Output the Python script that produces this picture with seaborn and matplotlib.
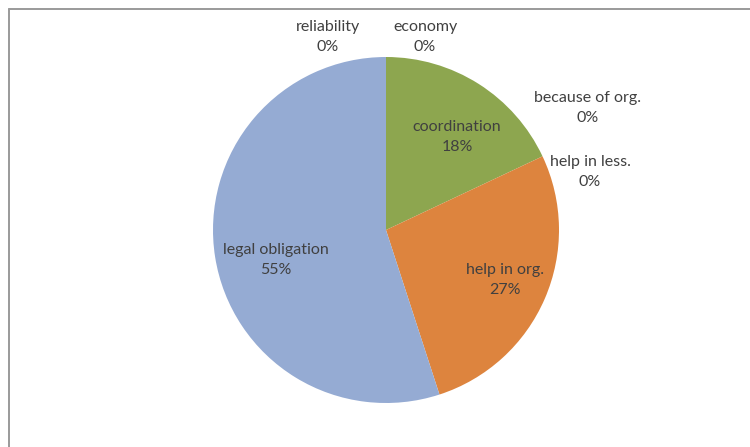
import matplotlib
matplotlib.use("Agg")
import matplotlib.pyplot as plt
from matplotlib.lines import Line2D
import seaborn as sns

# Reasons and their shares (percent), clockwise from 12 o'clock
categories = ["economy", "coordination", "because of org.", "help in less.",
              "help in org.", "legal obligation", "reliability"]
shares = [0, 18, 0, 0, 27, 55, 0]

# Label anchor points in pixel coordinates (x, y from top)
label_xy = [(425, 37), (457, 137), (588, 108), (590, 172),
            (505, 280), (276, 260), (328, 37)]

sns.set_theme(style="white")
plt.rcParams["font.family"] = ["Lato", "DejaVu Sans"]

palette = sns.color_palette(["#95ABD3", "#8DA64F", "#8DA64F", "#DD843E",
                             "#DD843E", "#95ABD3", "#95ABD3"])

W, H = 750, 447
fig = plt.figure(figsize=(W / 100, H / 100), dpi=100)
ax = fig.add_axes([0, 0, 1, 1])

ax.pie(shares, colors=palette, startangle=90, counterclock=False,
       center=(386, H - 230), radius=173,
       wedgeprops=dict(linewidth=0), frame=True)
ax.set_xlim(0, W)
ax.set_ylim(0, H)
ax.set_aspect("equal")
ax.axis("off")

total = sum(shares)
for name, val, (x, y) in zip(categories, shares, label_xy):
    ax.text(x, H - y, f"{name}\n{val / total * 100:.0f}%", ha="center",
            va="center", fontsize=11.5, color="#404040", linespacing=1.6)

# Thin grey frame along the top and left edges
border = "#9a9a9a"
fig.add_artist(Line2D([9 / W, 1], [1 - 9 / H, 1 - 9 / H],
                      transform=fig.transFigure, color=border, lw=1.4))
fig.add_artist(Line2D([9 / W, 9 / W], [0, 1 - 9 / H],
                      transform=fig.transFigure, color=border, lw=1.4))

fig.savefig("out.png", dpi=100, facecolor="white")
